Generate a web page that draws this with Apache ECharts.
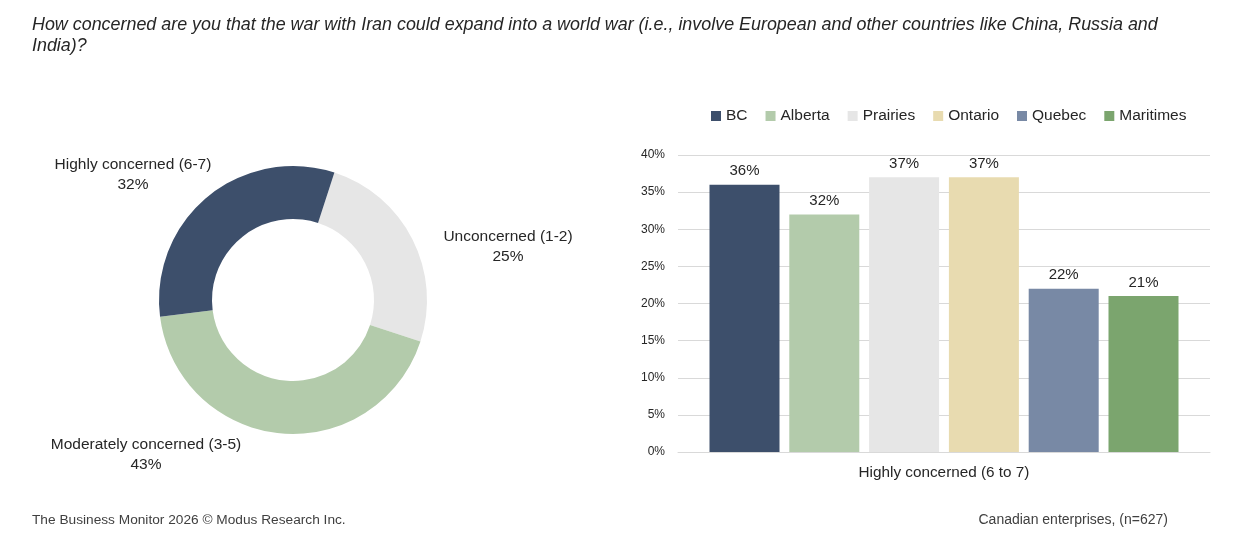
<!DOCTYPE html>
<html><head><meta charset="utf-8">
<script src="https://cdn.jsdelivr.net/npm/echarts@6/dist/echarts.min.js"></script>
<style>html,body{margin:0;padding:0;background:#fff;}#c{width:1246px;height:547px;}</style>
</head><body><div id="c"></div>
<script>
const titleText = 'How concerned are you that the war with Iran could expand into a world war (i.e., involve European and other countries like China, Russia and\nIndia)?';
const pieNames = ['Unconcerned (1-2)', 'Moderately concerned (3-5)', 'Highly concerned (6-7)'];
const pieValues = [25, 43, 32];
const pieColors = ['#e6e6e6', '#b3cbab', '#3d4f6b'];
const regions = ['BC', 'Alberta', 'Prairies', 'Ontario', 'Quebec', 'Maritimes'];
const regionValues = [36, 32, 37, 37, 22, 21];
const regionColors = ['#3d4f6b', '#b3cbab', '#e6e6e6', '#e8dbb0', '#7889a5', '#7ba56e'];
const barCategories = ['Highly concerned (6 to 7)'];
const yTicks = [0, 5, 10, 15, 20, 25, 30, 35, 40];

const FONT = 'Liberation Sans, Arial, sans-serif';
const pieLabelPos = [[508, 247], [146, 455], [133, 175]];

const chart = echarts.init(document.getElementById('c'), null, {renderer: 'canvas'});
chart.setOption({
  animation: false,
  textStyle: {fontFamily: FONT, color: '#262626'},
  title: [{
    text: titleText, left: 32, top: 15, padding: 0,
    textStyle: {fontSize: 17.9, fontStyle: 'italic', fontWeight: 'normal', color: '#262626', lineHeight: 20.5, fontFamily: FONT}
  }],
  legend: {
    data: regions, left: 706, top: 103, itemWidth: 10, itemHeight: 10, itemGap: 18,
    icon: 'rect', textStyle: {fontSize: 15.5, color: '#262626', fontFamily: FONT}
  },
  grid: {left: 678, right: 36, top: 155, bottom: 95, containLabel: false},
  xAxis: {
    type: 'category', data: barCategories,
    axisLine: {lineStyle: {color: '#d9d9d9'}}, axisTick: {show: false},
    axisLabel: {fontSize: 15.3, color: '#262626', margin: 13}
  },
  yAxis: {
    type: 'value', min: 0, max: 40, interval: 5,
    axisLine: {show: false}, axisTick: {show: false},
    splitLine: {lineStyle: {color: '#d9d9d9'}},
    axisLabel: {fontSize: 12, color: '#262626', margin: 13, formatter: v => yTicks.includes(v) ? v + '%' : ''}
  },
  series: [
    {
      type: 'pie', radius: [81, 134], center: [293, 300], startAngle: 72, clockwise: true,
      avoidLabelOverlap: false,
      data: pieNames.map((n, i) => ({name: n, value: pieValues[i], itemStyle: {color: pieColors[i]}})),
      label: {show: true, position: 'outside', formatter: p => p.name + '\n' + p.value + '%',
        fontSize: 15.5, color: '#262626', align: 'center', lineHeight: 20, fontFamily: FONT},
      labelLine: {show: false},
      labelLayout: p => ({x: pieLabelPos[p.dataIndex][0], y: pieLabelPos[p.dataIndex][1], align: 'center', verticalAlign: 'middle'}),
      emphasis: {disabled: true}
    },
    ...regions.map((r, i) => ({
      type: 'bar', name: r, data: [regionValues[i]], barWidth: 70, barGap: '14%', barCategoryGap: '12%',
      itemStyle: {color: regionColors[i]},
      label: {show: true, position: 'top', formatter: p => p.value + '%', fontSize: 15, color: '#262626', distance: 6}
    }))
  ],
  graphic: [
    {type: 'text', left: 32, top: 513, style: {text: 'The Business Monitor 2026 \u00a9 Modus Research Inc.', font: '13.7px ' + FONT, fill: '#404040'}},
    {type: 'text', right: 78, top: 513, style: {text: 'Canadian enterprises, (n=627)', font: '14px ' + FONT, fill: '#404040'}}
  ]
});
</script></body></html>
